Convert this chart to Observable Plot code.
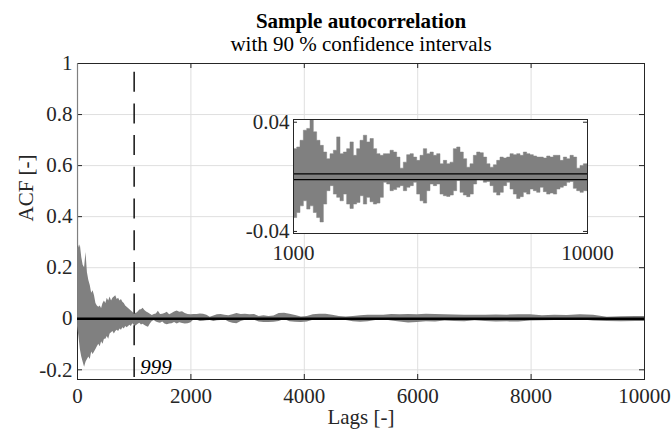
<!DOCTYPE html>
<html><head><meta charset="utf-8">
<script src="https://cdn.jsdelivr.net/npm/d3@7"></script>
<script src="https://cdn.jsdelivr.net/npm/@observablehq/plot@0.6"></script>
<style>
body{margin:0;background:#fff;}
#wrap{position:relative;width:672px;height:437px;}
#inset{position:absolute;left:240px;top:105px;}
svg{overflow:visible;}
svg text{font-family:"Liberation Serif","Times New Roman",serif;}
</style></head><body><div id="wrap"><div id="main"></div><div id="inset"></div></div>
<script>
// Lags (x) and the upper / lower envelope of the sample ACF
const lags = [0,1,25,50,75,100,125,150,175,200,225,250,275,300,325,350,375,400,425,450,475,500,525,550,575,600,625,650,675,700,725,750,775,800,825,850,875,900,925,950,975,1000,
1016,1043,1070,1099,1128,1157,1188,1219,1252,1285,1319,1354,1390,1426,1464,1503,1542,1583,1625,1668,1712,1758,1804,1852,1901,1951,2003,2056,2110,2166,2223,2282,2342,2404,2468,2533,2600,2669,2739,2812,2886,2962,3041,3121,
3204,3289,3376,3465,3556,3651,3747,3846,3948,4052,4159,4269,4382,4498,4617,4739,4865,4993,5125,5261,5400,5543,5689,5840,5994,6153,6315,6482,6654,6830,7010,7197,7387,7582,7783,7989,8200,8417,8639,8868,9102,9343,9591,9845,10000];
const acfUpper = [1,0.29,0.27,0.29,0.24,0.21,0.20,0.26,0.18,0.15,0.13,0.10,0.11,0.09,0.06,0.05,0.045,0.05,0.04,0.06,0.07,0.06,0.08,0.07,0.085,0.07,0.08,0.085,0.09,0.075,0.08,0.07,0.075,0.065,0.06,0.05,0.045,0.04,0.035,0.03,0.025,0.02,
0.0203,0.0215,0.0264,0.0338,0.0351,0.0412,0.0326,0.0264,0.0227,0.0178,0.0129,0.0166,0.0191,0.0289,0.0166,0.0178,0.0203,0.0252,0.0154,0.0203,0.0264,0.0301,0.0252,0.0277,0.0203,0.0166,0.0154,0.0166,0.0166,0.0191,0.0178,0.0141,0.006,0.0104,0.0159,0.0166,0.0141,0.0117,0.0154,0.0203,0.0166,0.0178,0.0154,0.0166,
0.0092,0.0117,0.0092,0.0104,0.0203,0.0215,0.0178,0.0129,0.0067,0.0092,0.0154,0.0178,0.0173,0.0141,0.0092,0.0067,0.0085,0.0117,0.0141,0.0134,0.0141,0.0166,0.0159,0.0166,0.0154,0.0178,0.0166,0.0159,0.0149,0.0141,0.0141,0.0134,0.0149,0.0141,0.0154,0.0154,0.0117,0.0141,0.0129,0.0154,0.0141,0.0060,0.0080,0.0092,0.0092];
const acfLower = [1,-0.03,-0.07,-0.12,-0.15,-0.17,-0.19,-0.17,-0.16,-0.15,-0.16,-0.13,-0.14,-0.13,-0.12,-0.11,-0.10,-0.11,-0.09,-0.10,-0.08,-0.08,-0.07,-0.08,-0.06,-0.055,-0.05,-0.06,-0.05,-0.045,-0.05,-0.04,-0.045,-0.035,-0.04,-0.03,-0.035,-0.03,-0.025,-0.03,-0.02,-0.025,
-0.0302,-0.0265,-0.0216,-0.0179,-0.0240,-0.0216,-0.0265,-0.0302,-0.0334,-0.0203,-0.0105,-0.0068,-0.0130,-0.0154,-0.0179,-0.0130,-0.0203,-0.0235,-0.0203,-0.0191,-0.0142,-0.0203,-0.0154,-0.0186,-0.0203,-0.0196,-0.0154,-0.0043,-0.0056,-0.0105,-0.0097,-0.0080,-0.0068,-0.0105,-0.0080,-0.0068,-0.0043,-0.0130,-0.0179,-0.0196,-0.0105,-0.0056,-0.0068,-0.0056,
-0.0130,-0.0142,-0.0147,-0.0137,-0.0105,-0.0031,-0.0117,-0.0137,-0.0149,-0.0130,-0.0056,-0.0024,-0.0026,-0.0043,-0.0038,-0.0068,-0.0117,-0.0137,-0.0117,-0.0068,-0.0043,-0.0093,-0.0130,-0.0162,-0.0149,-0.0117,-0.0130,-0.0093,-0.0105,-0.0117,-0.0080,-0.0112,-0.0130,-0.0122,-0.0130,-0.0093,-0.0080,-0.0068,-0.0043,-0.0038,-0.0088,-0.0105,-0.0117,-0.0105,-0.0105];
const confBounds = [0.0021, -0.0021];
const markerLag = [999];
const xTicks = [0,2000,4000,6000,8000,10000];
const yTicks = [-0.2,0,0.2,0.4,0.6,0.8,1];
const insetXTicks = [1000,10000];
const insetYTicks = [-0.04,0.04];
const titleText = "Sample autocorrelation";
const subtitleText = "with 90 % confidence intervals";
const xLabel = "Lags [-]";
const yLabel = "ACF [-]";

const data = lags.map((lag, i) => ({lag, hi: acfUpper[i], lo: acfLower[i]}));
const insetData = data.filter(d => d.lag >= 1000);
const fmt = d => String(d);
const FS = 21;
const FONT = "Liberation Serif";
const W = 672, H = 437;
const M = {left: 77, right: 28, top: 63, bottom: 58};
const fw = W - M.left - M.right, fh = H - M.top - M.bottom;
const AX = "#262626", GRID = "#dfdfdf", GREY = "#808080";

const main = Plot.plot({
  width: W, height: H,
  marginLeft: M.left, marginRight: M.right, marginTop: M.top, marginBottom: M.bottom,
  style: {fontFamily: FONT, background: "white", overflow: "visible"},
  x: {domain: [0, 10000]},
  y: {domain: [-0.238, 1]},
  marks: [
    Plot.gridX(xTicks, {x: d => d, stroke: GRID, strokeOpacity: 1}),
    Plot.gridY(yTicks, {y: d => d, stroke: GRID, strokeOpacity: 1}),
    Plot.frame({stroke: AX}),
    Plot.tickX(xTicks, {x: d => d, stroke: AX, insetTop: fh - 5}),
    Plot.tickX(xTicks, {x: d => d, stroke: AX, insetBottom: fh - 5}),
    Plot.tickY(yTicks, {y: d => d, stroke: AX, insetRight: fw - 5}),
    Plot.tickY(yTicks, {y: d => d, stroke: AX, insetLeft: fw - 5}),
    Plot.areaY(data, {x: "lag", y1: "lo", y2: "hi", fill: GREY}),
    Plot.line(data.slice(0, 3), {x: "lag", y: "hi", stroke: GREY, strokeWidth: 1.2}),
    Plot.ruleY(confBounds, {y: d => d, stroke: "black", strokeWidth: 1.5}),
    Plot.ruleX(markerLag, {x: d => d, stroke: "black", strokeWidth: 1.4, strokeDasharray: "20,11.7", strokeDashoffset: 23}),
    Plot.text(markerLag, {x: d => d, text: d => String(d), frameAnchor: "bottom", lineAnchor: "bottom", textAnchor: "start", dx: 6, dy: -6, fontStyle: "italic", fontFamily: FONT, fontSize: FS, fill: "black"}),
    Plot.axisX(xTicks, {tickSize: 0, tickPadding: 9, tickFormat: fmt, fontSize: FS, fontFamily: FONT, fill: AX, label: null}),
    Plot.axisY(yTicks, {tickSize: 0, tickPadding: 5, tickFormat: fmt, fontSize: FS, fontFamily: FONT, fill: AX, label: null}),
    Plot.text([xLabel], {text: d => d, frameAnchor: "bottom", lineAnchor: "top", dy: 30, fontSize: FS, fontFamily: FONT, fill: AX}),
    Plot.text([yLabel], {text: d => d, frameAnchor: "left", rotate: -90, dx: -51, fontSize: FS, fontFamily: FONT, fill: AX}),
    Plot.text([titleText], {text: d => d, frameAnchor: "top", lineAnchor: "bottom", dy: -36, fontWeight: "bold", fontSize: FS, fontFamily: FONT, fill: "black"}),
    Plot.text([subtitleText], {text: d => d, frameAnchor: "top", lineAnchor: "bottom", dy: -13, fontSize: FS, fontFamily: FONT, fill: "black"})
  ]
});
document.getElementById("main").appendChild(main);

const IW = 360, IH = 160;
const IM = {left: 53, right: 13, top: 14, bottom: 32};
const ifw = IW - IM.left - IM.right;
const inset = Plot.plot({
  width: IW, height: IH,
  marginLeft: IM.left, marginRight: IM.right, marginTop: IM.top, marginBottom: IM.bottom,
  style: {fontFamily: FONT, background: "transparent", overflow: "visible"},
  x: {type: "log", domain: [1000, 10000]},
  y: {domain: [-0.0415, 0.042]},
  marks: [
    Plot.frame({fill: "white", stroke: null}),
    Plot.areaY(insetData, {x: "lag", y1: "lo", y2: "hi", curve: "step", fill: GREY, stroke: GREY, strokeWidth: 0.5, clip: true}),
    Plot.ruleY(confBounds, {y: d => d, stroke: "black", strokeWidth: 1.3}),
    Plot.frame({stroke: AX}),
    Plot.tickY(insetYTicks, {y: d => d, stroke: AX, insetRight: ifw - 4}),
    Plot.tickY(insetYTicks, {y: d => d, stroke: AX, insetLeft: ifw - 4}),
    Plot.axisX(insetXTicks, {tickSize: 0, tickPadding: 12, tickFormat: fmt, fontSize: FS, fontFamily: FONT, fill: AX, label: null}),
    Plot.axisY(insetYTicks, {tickSize: 0, tickPadding: 4, tickFormat: fmt, fontSize: FS, fontFamily: FONT, fill: AX, label: null})
  ]
});
document.getElementById("inset").appendChild(inset);
</script></body></html>
